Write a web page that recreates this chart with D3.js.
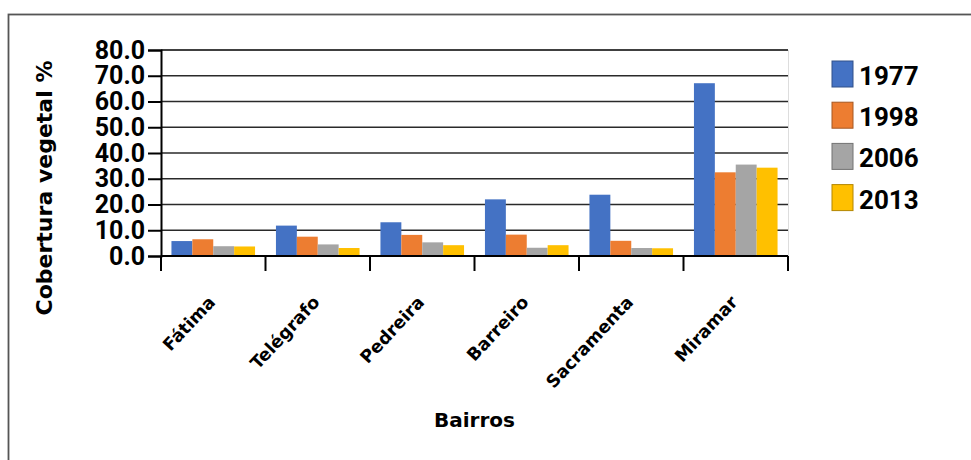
<!DOCTYPE html>
<html>
<head>
<meta charset="utf-8">
<script src="https://cdn.jsdelivr.net/npm/d3@7"></script>
<style>
  body { margin: 0; background: #fff; }
  svg { display: block; }
</style>
</head>
<body>
<main></main>
<script>
const width = 971;
const height = 460;

const bairros = ['Fátima', 'Telégrafo', 'Pedreira', 'Barreiro', 'Sacramenta', 'Miramar'];
const anos = ['1977', '1998', '2006', '2013'];
const v1977 = [5.8, 11.8, 13.1, 22.0, 23.8, 67.1];
const v1998 = [6.5, 7.5, 8.2, 8.3, 5.9, 32.5];
const v2006 = [3.8, 4.5, 5.3, 3.2, 3.1, 35.5];
const v2013 = [3.7, 3.1, 4.2, 4.2, 3.0, 34.3];
const yTicks = [0, 10, 20, 30, 40, 50, 60, 70, 80];
const cores = ['#4472C4', '#ED7D31', '#A5A5A5', '#FFC000'];

const series = [v1977, v1998, v2006, v2013];

const plot = {left: 161, right: 788, top: 50, bottom: 256};

const svg = d3.select('main')
              .append('svg')
              .attr('width', width)
              .attr('height', height);

// moldura
svg.append('rect')
   .attr('x', 8.5).attr('y', 14.5)
   .attr('width', 1000).attr('height', 500)
   .attr('fill', 'none')
   .attr('stroke', '#555')
   .attr('stroke-width', 1.8);

const x0 = d3.scaleBand()
             .domain(bairros)
             .range([plot.left, plot.right])
             .paddingInner(0.2)
             .paddingOuter(0.1);

const x1 = d3.scaleBand()
             .domain(anos)
             .range([0, x0.bandwidth()]);

const y = d3.scaleLinear()
            .domain([0, 80])
            .range([plot.bottom, plot.top]);

const color = d3.scaleOrdinal().domain(anos).range(cores);

// borda direita clara da area
svg.append('line')
   .attr('x1', plot.right + 0.5).attr('x2', plot.right + 0.5)
   .attr('y1', plot.top).attr('y2', plot.bottom)
   .attr('stroke', '#ddd');

// grade
svg.append('g')
   .selectAll('line')
   .data(yTicks)
   .enter()
   .append('line')
   .attr('x1', plot.left)
   .attr('x2', plot.right)
   .attr('y1', d => y(d))
   .attr('y2', d => y(d))
   .attr('stroke', d => d === 80 ? '#000' : '#2a2a2a')
   .attr('stroke-width', 1.6);

// barras
const groups = svg.append('g')
   .selectAll('g')
   .data(bairros)
   .enter()
   .append('g')
   .attr('transform', d => 'translate(' + x0(d) + ',0)');

groups.selectAll('rect')
   .data((d, i) => anos.map((a, j) => ({ano: a, v: series[j][i]})))
   .enter()
   .append('rect')
   .attr('x', d => x1(d.ano))
   .attr('y', d => y(d.v))
   .attr('width', x1.bandwidth())
   .attr('height', d => plot.bottom - y(d.v))
   .attr('fill', d => color(d.ano));

// eixo y
const yAxis = svg.append('g')
   .attr('transform', 'translate(' + plot.left + ',0)')
   .call(d3.axisLeft(y).tickValues(yTicks).tickFormat(d => d.toFixed(1)).tickSize(13).tickPadding(3));
yAxis.select('.domain').attr('stroke', '#000').attr('stroke-width', 2);
yAxis.selectAll('.tick line').attr('stroke', '#000').attr('stroke-width', 2);
yAxis.selectAll('text')
   .attr('fill', '#000')
   .style('font-family', 'Roboto, "DejaVu Sans", sans-serif')
   .style('font-weight', 'bold')
   .style('font-size', '25px');

// eixo x
const xAxis = svg.append('g')
   .attr('transform', 'translate(0,' + plot.bottom + ')')
   .call(d3.axisBottom(x0).tickSize(0).tickSizeOuter(0));
xAxis.select('.domain').attr('stroke', '#000').attr('stroke-width', 2)
   .attr('d', 'M' + plot.left + ',0H' + plot.right);
xAxis.selectAll('text')
   .attr('fill', '#000')
   .attr('text-anchor', 'end')
   .attr('y', 0)
   .attr('dy', 0)
   .attr('transform', 'translate(3,47) rotate(-47)')
   .style('font-family', '"DejaVu Sans", sans-serif')
   .style('font-weight', 'bold')
   .style('font-size', '17.5px');

// marcas entre categorias
const bounds = bairros.map(d => x0(d) - (x0.step() - x0.bandwidth()) / 2).concat([plot.right]);
svg.append('g')
   .selectAll('line')
   .data(bounds)
   .enter()
   .append('line')
   .attr('x1', d => d).attr('x2', d => d)
   .attr('y1', plot.bottom).attr('y2', plot.bottom + 15)
   .attr('stroke', '#000')
   .attr('stroke-width', 2);

// titulos
svg.append('text')
   .attr('transform', 'translate(52,188) rotate(-90)')
   .attr('text-anchor', 'middle')
   .style('font-family', '"DejaVu Sans", sans-serif')
   .style('font-weight', 'bold')
   .style('font-size', '22px')
   .text('Cobertura vegetal %');

svg.append('text')
   .attr('x', (plot.left + plot.right) / 2)
   .attr('y', 427)
   .attr('text-anchor', 'middle')
   .style('font-family', '"DejaVu Sans", sans-serif')
   .style('font-weight', 'bold')
   .style('font-size', '20px')
   .text('Bairros');

// legenda
const legend = svg.append('g')
   .selectAll('g')
   .data(anos)
   .enter()
   .append('g')
   .attr('transform', (d, i) => 'translate(832,' + (61 + i * 41.2) + ')');

legend.append('rect')
   .attr('width', 21)
   .attr('height', 26)
   .attr('fill', d => color(d))
   .attr('stroke', d => d3.color(color(d)).darker(1))
   .attr('stroke-width', 1);

legend.append('text')
   .attr('x', 27)
   .attr('y', 24)
   .style('font-family', 'Roboto, "DejaVu Sans", sans-serif')
   .style('font-weight', 'bold')
   .style('font-size', '26px')
   .text(d => d);
</script>
</body>
</html>
